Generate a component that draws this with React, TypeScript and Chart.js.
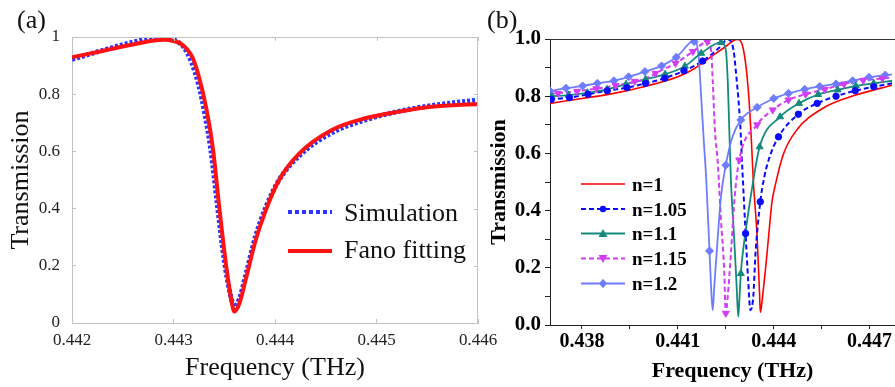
import React, { useEffect, useRef } from 'react';
import { Chart, registerables } from 'chart.js';

Chart.register(...registerables);

const SERIF = '"Liberation Serif", "Times New Roman", Times, serif';

// ---------- Panel (a) data ----------
const aFreqTicks = [0.442, 0.443, 0.444, 0.445, 0.446];
const aFreqLabels = ['0.442', '0.443', '0.444', '0.445', '0.446'];
const aTransTicks = [0, 0.2, 0.4, 0.6, 0.8, 1];
const aTransLabels = ['0', '0.2', '0.4', '0.6', '0.8', '1'];

const simFreq = [0.442, 0.44227, 0.4426, 0.4429, 0.443, 0.4431, 0.44318, 0.44325, 0.44331, 0.44337, 0.44343, 0.4435, 0.44356, 0.4436, 0.44365, 0.44371, 0.44381, 0.44391, 0.44404, 0.44424, 0.44456, 0.44489, 0.44522, 0.44554, 0.446];
const simTrans = [0.922, 0.95, 0.982, 1.0, 0.99, 0.965, 0.91, 0.83, 0.73, 0.6, 0.42, 0.22, 0.1, 0.057, 0.085, 0.165, 0.305, 0.405, 0.5, 0.585, 0.665, 0.71, 0.74, 0.76, 0.78];

const fitFreq = [0.442, 0.44227, 0.4426, 0.4429, 0.44299, 0.44309, 0.44319, 0.44325, 0.44332, 0.44339, 0.44345, 0.44352, 0.44357, 0.4436, 0.44365, 0.44371, 0.44381, 0.44391, 0.44404, 0.44424, 0.44456, 0.44489, 0.44522, 0.44554, 0.446];
const fitTrans = [0.929, 0.949, 0.974, 0.99, 0.987, 0.972, 0.926, 0.861, 0.756, 0.605, 0.407, 0.197, 0.08, 0.04, 0.069, 0.15, 0.29, 0.395, 0.5, 0.593, 0.675, 0.716, 0.739, 0.756, 0.766];

// ---------- Panel (b) data ----------
const bFreqTicks = [0.438, 0.4395, 0.441, 0.4425, 0.444, 0.4455, 0.447];
const bFreqLabels = ['0.438', '', '0.441', '', '0.444', '', '0.447'];
const bTransTicks = [0, 0.1, 0.2, 0.3, 0.4, 0.5, 0.6, 0.7, 0.8, 0.9, 1.0];
const bTransLabels = ['0.0', '', '0.2', '', '0.4', '', '0.6', '', '0.8', '', '1.0'];

// n = 1 (red, solid)
const n1X = [0.437, 0.438, 0.439, 0.44, 0.441, 0.4415, 0.442, 0.44256, 0.44275, 0.44288, 0.443, 0.44312, 0.44322, 0.4433, 0.44336, 0.44348, 0.44356, 0.44358, 0.44361, 0.44366, 0.44374, 0.44384, 0.44394, 0.44405, 0.44431, 0.44472, 0.44554, 0.44657, 0.4477];
const n1Y = [0.775, 0.792, 0.81, 0.835, 0.868, 0.895, 0.935, 0.979, 0.995, 0.998, 0.985, 0.915, 0.798, 0.647, 0.507, 0.309, 0.099, 0.045, 0.06, 0.11, 0.192, 0.31, 0.426, 0.49, 0.6, 0.682, 0.758, 0.804, 0.838];

// n = 1.05 (blue, dashed, circles)
const n105X = [0.437, 0.43761, 0.43819, 0.43879, 0.43941, 0.43999, 0.44059, 0.44119, 0.44178, 0.4423, 0.44256, 0.44274, 0.44284, 0.44295, 0.44302, 0.44312, 0.4432, 0.44327, 0.44336, 0.44343, 0.44358, 0.4437, 0.44384, 0.44415, 0.44477, 0.44536, 0.44595, 0.44655, 0.44713, 0.4477];
const n105Y = [0.789, 0.795, 0.807, 0.819, 0.83, 0.845, 0.863, 0.889, 0.923, 0.97, 0.999, 0.962, 0.857, 0.705, 0.542, 0.32, 0.157, 0.052, 0.099, 0.25, 0.431, 0.515, 0.577, 0.658, 0.737, 0.775, 0.8, 0.819, 0.833, 0.845];
const n105MX = [0.43704, 0.43761, 0.43819, 0.43879, 0.43941, 0.43999, 0.44059, 0.44119, 0.44178, 0.44312, 0.44358, 0.44415, 0.44477, 0.44536, 0.44595, 0.44655, 0.44713];
const n105MY = [0.789, 0.795, 0.807, 0.819, 0.83, 0.845, 0.863, 0.889, 0.923, 0.32, 0.431, 0.658, 0.737, 0.775, 0.8, 0.819, 0.833];

// n = 1.1 (teal, solid, triangles)
const n11X = [0.437, 0.43758, 0.43817, 0.43879, 0.43938, 0.43999, 0.4406, 0.44122, 0.44173, 0.44235, 0.4425, 0.44256, 0.44261, 0.44266, 0.44276, 0.44284, 0.44289, 0.44292, 0.44297, 0.44307, 0.44317, 0.44333, 0.44356, 0.4442, 0.44479, 0.44539, 0.446, 0.44657, 0.44713, 0.4477];
const n11Y = [0.8, 0.804, 0.812, 0.824, 0.842, 0.859, 0.877, 0.905, 0.95, 0.988, 0.962, 0.857, 0.682, 0.507, 0.309, 0.134, 0.029, 0.076, 0.18, 0.286, 0.367, 0.484, 0.623, 0.728, 0.775, 0.806, 0.822, 0.836, 0.845, 0.854];
const n11MX = [0.43705, 0.43758, 0.43817, 0.43879, 0.43938, 0.43999, 0.4406, 0.44122, 0.44173, 0.44235, 0.44297, 0.44356, 0.4442, 0.44479, 0.44539, 0.446, 0.44657, 0.44713];
const n11MY = [0.8, 0.804, 0.812, 0.824, 0.842, 0.859, 0.877, 0.905, 0.95, 0.988, 0.18, 0.623, 0.728, 0.775, 0.806, 0.822, 0.836, 0.845];

// n = 1.15 (magenta, dashed, down triangles)
const n115X = [0.437, 0.4375, 0.438, 0.4385, 0.439, 0.4395, 0.44, 0.44044, 0.44093, 0.44147, 0.44192, 0.44204, 0.44209, 0.44216, 0.44225, 0.44235, 0.44245, 0.4425, 0.44256, 0.44266, 0.44278, 0.44292, 0.44348, 0.44397, 0.44446, 0.445, 0.44559, 0.44651, 0.4477];
const n115Y = [0.808, 0.813, 0.82, 0.827, 0.836, 0.847, 0.862, 0.888, 0.915, 0.956, 0.99, 0.962, 0.857, 0.682, 0.565, 0.367, 0.192, 0.041, 0.099, 0.25, 0.45, 0.577, 0.7, 0.752, 0.787, 0.807, 0.824, 0.851, 0.865];
const n115MX = [0.43725, 0.43785, 0.43845, 0.43905, 0.43965, 0.4403, 0.44093, 0.44147, 0.44192, 0.4425, 0.44292, 0.44348, 0.44397, 0.44446, 0.445, 0.4456, 0.4462, 0.4468, 0.4474];
const n115MY = [0.81, 0.817, 0.826, 0.837, 0.852, 0.88, 0.915, 0.956, 0.99, 0.041, 0.577, 0.7, 0.752, 0.787, 0.807, 0.824, 0.842, 0.855, 0.862];

// n = 1.2 (light blue, solid, diamonds)
const n12X = [0.437, 0.4375, 0.43802, 0.43848, 0.439, 0.43946, 0.43997, 0.44049, 0.44095, 0.44153, 0.44165, 0.44173, 0.44181, 0.44189, 0.44199, 0.44204, 0.44209, 0.44214, 0.44225, 0.44235, 0.4425, 0.44271, 0.44297, 0.44348, 0.444, 0.44446, 0.44497, 0.44544, 0.44595, 0.44647, 0.44698, 0.4477];
const n12Y = [0.818, 0.828, 0.836, 0.845, 0.854, 0.868, 0.886, 0.906, 0.936, 0.995, 0.938, 0.798, 0.647, 0.507, 0.259, 0.134, 0.052, 0.134, 0.309, 0.449, 0.559, 0.658, 0.717, 0.761, 0.792, 0.81, 0.824, 0.834, 0.843, 0.854, 0.866, 0.876];
const n12MX = [0.437, 0.4375, 0.43802, 0.43848, 0.439, 0.43946, 0.43997, 0.44049, 0.44095, 0.44151, 0.44199, 0.4425, 0.44297, 0.44348, 0.444, 0.44446, 0.44497, 0.44544, 0.44595, 0.44647, 0.44698, 0.44749];
const n12MY = [0.818, 0.828, 0.836, 0.845, 0.854, 0.868, 0.886, 0.906, 0.936, 0.991, 0.259, 0.559, 0.717, 0.761, 0.792, 0.81, 0.824, 0.834, 0.843, 0.854, 0.866, 0.874];

const SIM_COLOR = '#2b35ff';
const FIT_COLOR = '#ff1212';
const AXIS_A = '#c2c2c2';

type Series = {
  label: string; xs: number[]; ys: number[]; mx: number[]; my: number[];
  color: string; dash: number[]; width: number; style: string | false; rot: number; radius: number;
};

const seriesB: Series[] = [
  { label: 'n=1', xs: n1X, ys: n1Y, mx: [], my: [], color: '#ff0000', dash: [], width: 1.6, style: false, rot: 0, radius: 0 },
  { label: 'n=1.05', xs: n105X, ys: n105Y, mx: n105MX, my: n105MY, color: '#0a0aff', dash: [5, 3], width: 2, style: 'circle', rot: 0, radius: 3.2 },
  { label: 'n=1.1', xs: n11X, ys: n11Y, mx: n11MX, my: n11MY, color: '#138a7c', dash: [], width: 1.8, style: 'triangle', rot: 0, radius: 4 },
  { label: 'n=1.15', xs: n115X, ys: n115Y, mx: n115MX, my: n115MY, color: '#d23cf2', dash: [5, 3], width: 2, style: 'triangle', rot: 180, radius: 4 },
  { label: 'n=1.2', xs: n12X, ys: n12Y, mx: n12MX, my: n12MY, color: '#6e7cff', dash: [], width: 1.8, style: 'rectRot', rot: 0, radius: 4 },
];

const pts = (xs: number[], ys: number[]) => xs.map((x, i) => ({ x, y: ys[i] }));

function drawMarker(ctx: CanvasRenderingContext2D, style: string, x: number, y: number, r: number, rot: number) {
  ctx.save();
  ctx.translate(x, y);
  ctx.rotate((rot * Math.PI) / 180);
  ctx.beginPath();
  if (style === 'circle') {
    ctx.arc(0, 0, r, 0, Math.PI * 2);
  } else if (style === 'triangle') {
    ctx.moveTo(0, -r * 1.15);
    ctx.lineTo(r * 1.1, r * 0.9);
    ctx.lineTo(-r * 1.1, r * 0.9);
  } else {
    ctx.moveTo(0, -r * 1.2); ctx.lineTo(r, 0); ctx.lineTo(0, r * 1.2); ctx.lineTo(-r, 0);
  }
  ctx.closePath();
  ctx.fill();
  ctx.restore();
}

const decorA = {
  id: 'decorA',
  afterDraw(chart: any) {
    const { ctx, chartArea, scales } = chart;
    const { left, right, top, bottom } = chartArea;
    ctx.save();
    ctx.strokeStyle = AXIS_A;
    ctx.lineWidth = 1;
    ctx.beginPath();
    ctx.moveTo(left, top + 0.5); ctx.lineTo(right, top + 0.5);
    ctx.moveTo(right - 0.5, top); ctx.lineTo(right - 0.5, bottom);
    aFreqTicks.forEach((v) => {
      const x = Math.round(scales.x.getPixelForValue(v)) + 0.5;
      ctx.moveTo(x, top); ctx.lineTo(x, top + 4);
    });
    aTransTicks.forEach((v) => {
      const y = Math.round(scales.y.getPixelForValue(v)) + 0.5;
      ctx.moveTo(right, y); ctx.lineTo(right - 4, y);
    });
    ctx.stroke();

    // legend
    ctx.lineWidth = 4;
    ctx.strokeStyle = SIM_COLOR;
    ctx.setLineDash([4, 3]);
    ctx.beginPath(); ctx.moveTo(288, 212); ctx.lineTo(332, 212); ctx.stroke();
    ctx.setLineDash([]);
    ctx.strokeStyle = FIT_COLOR;
    ctx.beginPath(); ctx.moveTo(288, 251); ctx.lineTo(332, 251); ctx.stroke();
    ctx.fillStyle = '#111';
    ctx.font = `26px ${SERIF}`;
    ctx.textBaseline = 'middle';
    ctx.textAlign = 'left';
    ctx.fillText('Simulation', 344, 214);
    ctx.fillText('Fano fitting', 344, 251);
    ctx.fillText('(a)', 17, 21);
    ctx.restore();
  },
};

const decorB = {
  id: 'decorB',
  afterDraw(chart: any) {
    const { ctx, chartArea } = chart;
    const { left, right, top } = chartArea;
    ctx.save();
    ctx.strokeStyle = '#333';
    ctx.lineWidth = 1;
    ctx.beginPath();
    ctx.moveTo(left, top + 0.5); ctx.lineTo(right, top + 0.5);
    ctx.stroke();

    // legend
    const x0 = 101, x1 = 145, tx = 152;
    const rows = [184, 209, 233.5, 258.5, 283.5];
    seriesB.forEach((s, i) => {
      const y = rows[i];
      ctx.strokeStyle = s.color;
      ctx.lineWidth = s.width;
      ctx.setLineDash(s.dash);
      ctx.beginPath(); ctx.moveTo(x0, y); ctx.lineTo(x1, y); ctx.stroke();
      ctx.setLineDash([]);
      if (s.style) {
        ctx.fillStyle = s.color;
        drawMarker(ctx, s.style as string, (x0 + x1) / 2, y, s.radius, s.rot);
      }
      ctx.fillStyle = '#000';
      ctx.font = `bold 19px ${SERIF}`;
      ctx.textBaseline = 'middle';
      ctx.textAlign = 'left';
      ctx.fillText(s.label, tx, y + 2);
    });
    ctx.fillStyle = '#111';
    ctx.font = `26px ${SERIF}`;
    ctx.fillText('(b)', 7, 21);
    ctx.restore();
  },
};

function PanelA() {
  const ref = useRef<HTMLCanvasElement>(null);
  useEffect(() => {
    const chart = new Chart(ref.current as HTMLCanvasElement, {
      type: 'line',
      data: {
        datasets: [
          {
            label: 'Fano fitting', data: pts(fitFreq, fitTrans), borderColor: FIT_COLOR, borderWidth: 4,
            pointRadius: 0, cubicInterpolationMode: 'monotone', order: 0,
          },
          {
            label: 'Simulation', data: pts(simFreq, simTrans), borderColor: SIM_COLOR, borderWidth: 5,
            borderDash: [3, 2], pointRadius: 0, cubicInterpolationMode: 'monotone', order: 1,
          },
        ],
      } as any,
      options: {
        responsive: false,
        animation: false,
        devicePixelRatio: 1,
        layout: { padding: { left: 0, top: 37, right: 52, bottom: 0 } },
        plugins: { legend: { display: false }, tooltip: { enabled: false } },
        scales: {
          x: {
            type: 'linear', min: 0.442, max: 0.446,
            afterBuildTicks: (s: any) => { s.ticks = aFreqTicks.map((value) => ({ value })); },
            afterFit: (s: any) => { s.height = 64; },
            grid: { drawOnChartArea: false, drawTicks: true, tickLength: -4, color: AXIS_A },
            border: { color: AXIS_A, width: 1 },
            ticks: {
              autoSkip: false, maxRotation: 0, padding: 11, color: '#222',
              font: { family: SERIF, size: 17 },
              callback: (_v: any, i: number) => aFreqLabels[i],
            },
            title: {
              display: true, text: 'Frequency (THz)', color: '#111',
              font: { family: SERIF, size: 26 }, padding: { top: 0, bottom: 3 },
            },
          },
          y: {
            type: 'linear', min: 0, max: 1,
            afterBuildTicks: (s: any) => { s.ticks = aTransTicks.map((value) => ({ value })); },
            afterFit: (s: any) => { s.width = 72; },
            grid: { drawOnChartArea: false, drawTicks: true, tickLength: -4, color: AXIS_A },
            border: { color: AXIS_A, width: 1 },
            ticks: {
              autoSkip: false, padding: 16, color: '#222',
              font: { family: SERIF, size: 17 },
              callback: (_v: any, i: number) => aTransLabels[i],
            },
            title: {
              display: true, text: 'Transmission', color: '#111',
              font: { family: SERIF, size: 26 }, padding: { top: 6, bottom: 0 },
            },
          },
        },
      } as any,
      plugins: [decorA],
    });
    return () => chart.destroy();
  }, []);
  return (
    <canvas ref={ref} width={530} height={387}
      style={{ position: 'absolute', left: 0, top: 0, width: 530, height: 387 }} />
  );
}

function PanelB() {
  const ref = useRef<HTMLCanvasElement>(null);
  useEffect(() => {
    const datasets: any[] = [];
    seriesB.forEach((s, i) => {
      datasets.push({
        label: s.label, data: pts(s.xs, s.ys), borderColor: s.color, borderWidth: s.width,
        borderDash: s.dash, pointRadius: 0, cubicInterpolationMode: 'monotone', order: 10 - i,
      });
    });
    seriesB.forEach((s) => {
      if (!s.style) return;
      datasets.push({
        label: s.label + ' markers', data: pts(s.mx, s.my), showLine: false,
        pointStyle: s.style, pointRotation: s.rot, pointRadius: s.radius,
        pointBackgroundColor: s.color, pointBorderColor: s.color, pointBorderWidth: 1, order: 0,
      });
    });
    const chart = new Chart(ref.current as HTMLCanvasElement, {
      type: 'line',
      data: { datasets },
      options: {
        responsive: false,
        animation: false,
        devicePixelRatio: 1,
        layout: { padding: { left: 0, top: 39, right: 0, bottom: 0 } },
        plugins: { legend: { display: false }, tooltip: { enabled: false } },
        scales: {
          x: {
            type: 'linear', min: 0.437, max: 0.44842,
            afterBuildTicks: (s: any) => { s.ticks = bFreqTicks.map((value) => ({ value })); },
            afterFit: (s: any) => { s.height = 62; },
            grid: { drawOnChartArea: false, drawTicks: true, tickLength: 4, color: '#222' },
            border: { color: '#222', width: 1 },
            ticks: {
              autoSkip: false, maxRotation: 0, padding: 1, color: '#000',
              font: { family: SERIF, size: 20, weight: 'bold' },
              callback: (_v: any, i: number) => bFreqLabels[i],
            },
            title: {
              display: true, text: 'Frequency (THz)', color: '#000',
              font: { family: SERIF, size: 22, weight: 'bold' }, padding: { top: 0, bottom: 2 },
            },
          },
          y: {
            type: 'linear', min: 0, max: 1,
            afterBuildTicks: (s: any) => { s.ticks = bTransTicks.map((value) => ({ value })); },
            afterFit: (s: any) => { s.width = 70; },
            grid: { drawOnChartArea: false, drawTicks: true, tickLength: 5, color: '#222' },
            border: { color: '#222', width: 1 },
            ticks: {
              autoSkip: false, padding: 4, color: '#000',
              font: { family: SERIF, size: 21, weight: 'bold' },
              callback: (_v: any, i: number) => bTransLabels[i],
            },
            title: {
              display: true, text: 'Transmission', color: '#000',
              font: { family: SERIF, size: 22, weight: 'bold' }, padding: { top: 6, bottom: 0 },
            },
          },
        },
      } as any,
      plugins: [decorB],
    });
    return () => chart.destroy();
  }, []);
  return (
    <canvas ref={ref} width={440} height={387}
      style={{ position: 'absolute', left: 480, top: 0, width: 440, height: 387 }} />
  );
}

export default function App() {
  return (
    <div style={{ position: 'absolute', left: 0, top: 0, width: 895, height: 387, overflow: 'hidden', background: '#fff' }}>
      <PanelA />
      <PanelB />
    </div>
  );
}
